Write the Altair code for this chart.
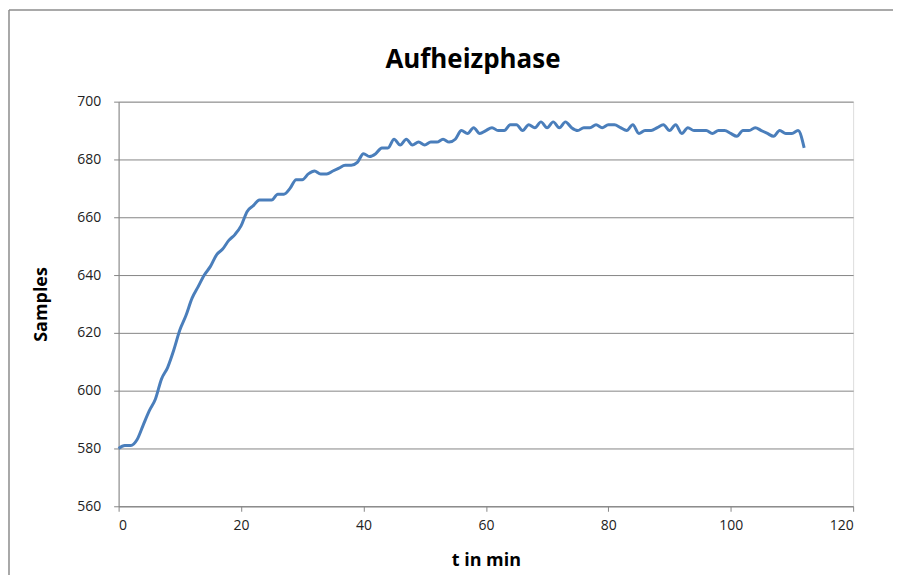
import altair as alt
import pandas as pd

t_min = list(range(0, 113))
samples = [
    580, 581, 581, 583, 588, 593, 597, 604, 608, 614,
    621, 626, 632, 636, 640, 643, 647, 649, 652, 654,
    657, 662, 664, 666, 666, 666, 668, 668, 670, 673,
    673, 675, 676, 675, 675, 676, 677, 678, 678, 679,
    682, 681, 682, 684, 684, 687, 685, 687, 685, 686,
    685, 686, 686, 687, 686, 687, 690, 689, 691, 689,
    690, 691, 690, 690, 692, 692, 690, 692, 691, 693,
    691, 693, 691, 693, 691, 690, 691, 691, 692, 691,
    692, 692, 691, 690, 692, 689, 690, 690, 691, 692,
    690, 692, 689, 691, 690, 690, 690, 689, 690, 690,
    689, 688, 690, 690, 691, 690, 689, 688, 690, 689,
    689, 690, 684,
]
x_ticks = [0, 20, 40, 60, 80, 100, 120]
y_ticks = [560, 580, 600, 620, 640, 660, 680, 700]
chart_title = ["Aufheizphase"]

df = pd.DataFrame({"t": t_min, "s": samples})
title_df = pd.DataFrame({"label": chart_title})

W, H = 737, 406
FONT = "Open Sans"

line = alt.Chart(df).mark_line(
    color="#4a7ebb", strokeWidth=3, interpolate="monotone"
).encode(
    x=alt.X(
        "t:Q",
        scale=alt.Scale(domain=[0, 120], nice=False, zero=False),
        axis=alt.Axis(
            values=x_ticks, grid=False, title="t in min",
            titleX=W / 2, titleY=54, titleBaseline="middle",
            titleFont=FONT, titleFontSize=18, titleFontWeight="bold", titleColor="#000",
            labelFont=FONT, labelFontSize=14, labelColor="#222", labelPadding=7,
            tickSize=5, tickColor="#868686", domainColor="#868686",
        ),
    ),
    y=alt.Y(
        "s:Q",
        scale=alt.Scale(domain=[560, 700], nice=False, zero=False),
        axis=alt.Axis(
            values=y_ticks, grid=True, gridColor="#868686", gridWidth=1,
            title="Samples", titleX=-77, titleY=H / 2, titleAngle=-90,
            titleAlign="center", titleBaseline="middle",
            titleFont=FONT, titleFontSize=18, titleFontWeight="bold", titleColor="#000",
            labelFont=FONT, labelFontSize=14, labelColor="#222", labelPadding=13,
            tickSize=5, tickColor="#868686", domainColor="#868686",
        ),
    ),
)

title_mark = alt.Chart(title_df).mark_text(
    font=FONT, fontSize=26, fontWeight="bold", color="#000",
    align="center", baseline="middle", clip=False,
).encode(
    text="label:N", x=alt.value(W / 2 - 13), y=alt.value(-42)
)

border_top = alt.Chart(title_df).mark_rule(color="#8c8c8c", strokeWidth=1.5, clip=False).encode(
    x=alt.value(-110), x2=alt.value(W + 40), y=alt.value(-92)
)
border_left = alt.Chart(title_df).mark_rule(color="#8c8c8c", strokeWidth=1.5, clip=False).encode(
    x=alt.value(-110), y=alt.value(-92), y2=alt.value(H + 80)
)

chart = alt.layer(border_top, border_left, title_mark, line).properties(
    width=W, height=H,
    autosize=alt.AutoSizeParams(type="none"),
    padding={"left": 111, "top": 93, "right": 40, "bottom": 68},
).configure_view(stroke=None).configure(background="white")

chart.save("out.html", embed_options={"renderer": "svg", "actions": False})
